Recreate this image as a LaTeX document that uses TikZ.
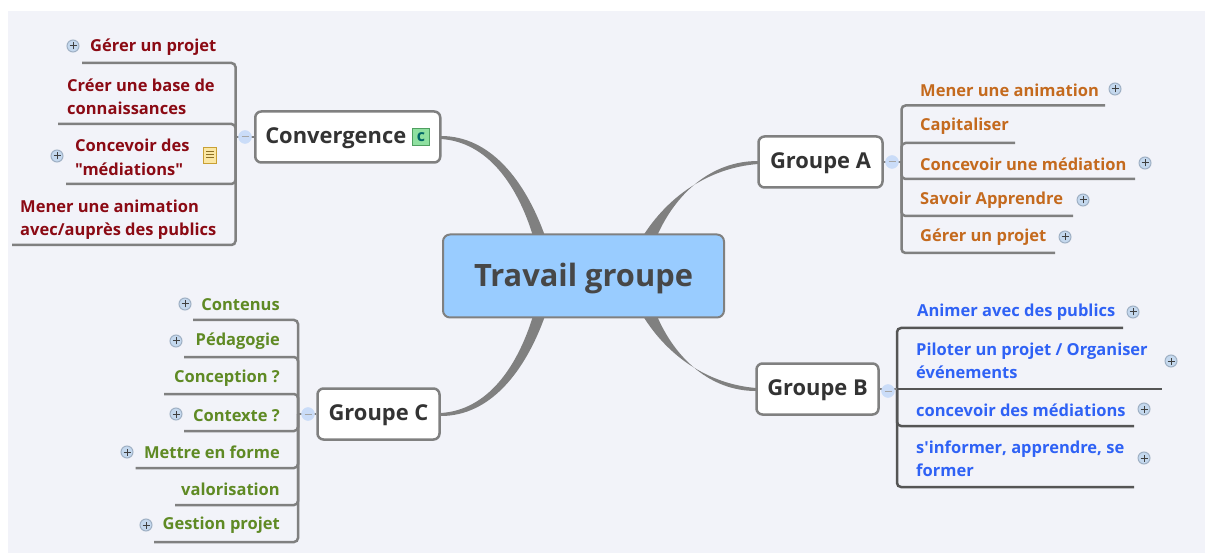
\documentclass[tikz,border=0pt]{standalone}
\usepackage{fontspec}
\newfontfamily\mapfont{Open Sans}
\usetikzlibrary{calc}
\definecolor{mapbg}{HTML}{F2F3F9}
\definecolor{rootblue}{HTML}{99CCFF}
\definecolor{linegray}{HTML}{808080}
\definecolor{darkline}{HTML}{555555}
\definecolor{cvred}{HTML}{8B0A14}
\definecolor{gaorange}{HTML}{C46A1E}
\definecolor{gbblue}{HTML}{2F62F5}
\definecolor{gcgreen}{HTML}{5F8A24}
\definecolor{btnfill}{HTML}{C4D8EE}
\definecolor{btnline}{HTML}{9FB0C4}
\definecolor{minusfill}{HTML}{CADCF8}
\definecolor{notefill}{HTML}{FBE7A4}
\definecolor{noteline}{HTML}{C9A035}
\definecolor{iconfill}{HTML}{8FE0A0}
\definecolor{iconline}{HTML}{4F9F60}
\newcommand{\lowered}[2]{\raisebox{-#1}[\height][\depth]{#2}}
\tikzset{
  rootbox/.style={draw=linegray, line width=2pt, fill=rootblue, rounded corners=7pt, text=black!72, font=\mapfont\bfseries\fontsize{30.8}{34}\selectfont},
  groupbox/.style={draw=linegray, line width=2.5pt, fill=white, rounded corners=6pt, text=black!80, font=\mapfont\bfseries\fontsize{21.9}{25}\selectfont},
  leaf/.style={inner sep=0pt, yshift=-1.5pt, align=left, font=\mapfont\bfseries\fontsize{16.5}{23.5}\selectfont},
  twig/.style={draw=linegray, line width=2.5pt, rounded corners=4pt},
  plusbtn/.style={circle, draw=btnline, fill=btnfill, line width=1pt, minimum size=12pt, inner sep=0pt,
    path picture={\draw[black!75, line width=1pt] ($(path picture bounding box.center)+(-3.5pt,0)$) -- ++(7pt,0) ($(path picture bounding box.center)+(0,-3.5pt)$) -- ++(0,7pt);}},
  minusbtn/.style={circle, draw=minusfill, fill=minusfill, minimum size=13pt, inner sep=0pt,
    path picture={\draw[black!35, line width=1pt] ($(path picture bounding box.center)+(-3.5pt,0)$) -- ++(7pt,0);}},
}
\begin{document}
\begin{tikzpicture}[x=1pt, y=-1pt]
  \useasboundingbox (0,0) rectangle (1205,553);
  \fill[white] (0,0) rectangle (1205,553);
  \fill[mapbg] (8,11) rectangle (1205,553);

  % tapered branches
  \coordinate (rcv) at (545,236);
  \coordinate (rga) at (657,236);
  \coordinate (rgb) at (657,316);
  \coordinate (rgc) at (545,316);
  \coordinate (econv) at (441,136);
  \coordinate (ega) at (758,161);
  \coordinate (egb) at (756,388);
  \coordinate (egc) at (441,413);
  \fill[linegray] (rcv) .. controls (525,180) and (490,136) .. (econv) -- ($(econv)+(0,3)$) .. controls (487,142) and (517,184) .. ($(rcv)+(-12,0)$) -- cycle;
  \fill[linegray] (rga) .. controls (675,195) and (710,161) .. (ega) -- ($(ega)+(0,3)$) .. controls (707,168) and (667,198) .. ($(rga)+(-14,0)$) -- cycle;
  \fill[linegray] (rgb) .. controls (675,358) and (710,391) .. ($(egb)+(0,3)$) -- (egb) .. controls (707,384) and (667,355) .. ($(rgb)+(-14,0)$) -- cycle;
  \fill[linegray] (rgc) .. controls (525,372) and (490,416) .. ($(egc)+(0,3)$) -- (egc) .. controls (487,410) and (517,368) .. ($(rgc)+(-12,0)$) -- cycle;

  % centre and groups
  \node[rootbox, minimum width=281pt, minimum height=83pt] (root) at (583.5,276) {\lowered{2pt}{Travail groupe}};
  \node[groupbox, minimum width=185pt, minimum height=51pt, anchor=west] (conv) at (254,137) {\hspace{-24pt}\lowered{1pt}{Convergence}};
  \node[groupbox, minimum width=124pt, minimum height=51pt] (groupa) at (820.5,162) {\lowered{1pt}{Groupe A}};
  \node[groupbox, minimum width=122pt, minimum height=51pt] (groupb) at (817.5,389) {\lowered{1.5pt}{Groupe B}};
  \node[groupbox, minimum width=122pt, minimum height=51pt] (groupc) at (378.5,414) {\lowered{1pt}{Groupe C}};
  \node[draw=iconline, fill=iconfill, line width=0.8pt, minimum size=17pt, inner sep=0pt, text=teal!80!black, font=\mapfont\bfseries\fontsize{16}{16}\selectfont] (convc) at (421,137) {c};

  % Convergence
  \coordinate (cvhub) at (235.5,137);
  \node[leaf, text=cvred, anchor=west] (cv1) at (90,46) {Gérer un projet};
  \node[leaf, text=cvred, anchor=west] (cv2) at (67,95.5) {Créer une base de\\connaissances};
  \node[leaf, text=cvred, anchor=west] (cv3) at (75,156) {Concevoir des\\"médiations"};
  \node[leaf, text=cvred, anchor=west] (cv4) at (20,218) {Mener une animation\\avec/auprès des publics};
  \coordinate (cv1e) at (82,63);
  \coordinate (cv2e) at (58,124);
  \coordinate (cv3e) at (66,184);
  \coordinate (cv4e) at (12,245);
  \draw[twig] (cvhub) |- (cv1e);
  \draw[twig] (cvhub) |- (cv2e);
  \draw[twig] (cvhub) |- (cv3e);
  \draw[twig] (cvhub) |- (cv4e);
  \draw[twig] (conv.west) -- (cvhub);
  \node[minusbtn] (cvmin) at (245,137) {};
  \node[plusbtn] (cvp1) at (73,46) {};
  \node[plusbtn] (cvp3) at (57,156) {};
  \node[draw=noteline, fill=notefill, line width=0.8pt, minimum width=13pt, minimum height=16pt, inner sep=0pt,
    path picture={\draw[noteline!70!black, line width=0.7pt] ($(path picture bounding box.north west)+(2.5pt,-4pt)$) -- ++(8pt,0) ++(-8pt,-3pt) -- ++(8pt,0) ++(-8pt,-3pt) -- ++(8pt,0);}] (cvnote) at (210,155) {};

  % Groupe A
  \coordinate (gahub) at (901.5,162);
  \node[leaf, text=gaorange, anchor=west] (ga1) at (920,88.5) {Mener une animation};
  \node[leaf, text=gaorange, anchor=west] (ga2) at (920,125) {Capitaliser};
  \node[leaf, text=gaorange, anchor=west] (ga3) at (920,162.5) {Concevoir une médiation};
  \node[leaf, text=gaorange, anchor=west] (ga4) at (920,199) {Savoir Apprendre};
  \node[leaf, text=gaorange, anchor=west] (ga5) at (920,236) {Gérer un projet};
  \coordinate (ga1e) at (1105,105.5);
  \coordinate (ga2e) at (1015,143);
  \coordinate (ga3e) at (1135,179);
  \coordinate (ga4e) at (1073,216);
  \coordinate (ga5e) at (1055,253);
  \draw[twig] (gahub) |- (ga1e);
  \draw[twig] (gahub) |- (ga2e);
  \draw[twig] (gahub) |- (ga3e);
  \draw[twig] (gahub) |- (ga4e);
  \draw[twig] (gahub) |- (ga5e);
  \draw[twig] (groupa.east) -- (gahub);
  \node[minusbtn] (gamin) at (892,162) {};
  \node[plusbtn] (gap1) at (1115,89) {};
  \node[plusbtn] (gap3) at (1145,163) {};
  \node[plusbtn] (gap4) at (1083,200) {};
  \node[plusbtn] (gap5) at (1065,237) {};

  % Groupe B
  \coordinate (gbhub) at (897,389);
  \node[leaf, text=gbblue, anchor=west] (gb1) at (917,311) {Animer avec des publics};
  \node[leaf, text=gbblue, anchor=west] (gb2) at (916,359.5) {Piloter un projet / Organiser\\événements};
  \node[leaf, text=gbblue, anchor=west] (gb3) at (916,408.5) {concevoir des médiations};
  \node[leaf, text=gbblue, anchor=west] (gb4) at (916,457.5) {s'informer, apprendre, se\\former};
  \coordinate (gb1e) at (1123,328);
  \coordinate (gb2e) at (1162,389);
  \coordinate (gb3e) at (1134,426);
  \coordinate (gb4e) at (1134,487);
  \draw[twig, draw=darkline] (gbhub) |- (gb1e);
  \draw[twig, draw=darkline] (gbhub) -- (gb2e);
  \draw[twig, draw=darkline] (gbhub) |- (gb3e);
  \draw[twig, draw=darkline] (gbhub) |- (gb4e);
  \draw[twig] (groupb.east) -- (gbhub);
  \node[minusbtn] (gbmin) at (888,391) {};
  \node[plusbtn] (gbp1) at (1133,312) {};
  \node[plusbtn] (gbp2) at (1171,361) {};
  \node[plusbtn] (gbp3) at (1144,409) {};
  \node[plusbtn] (gbp4) at (1144,458) {};

  % Groupe C
  \coordinate (gchub) at (298,414);
  \node[leaf, text=gcgreen, anchor=east] (gc1) at (280,303.5) {Contenus};
  \node[leaf, text=gcgreen, anchor=east] (gc2) at (280,340) {Pédagogie};
  \node[leaf, text=gcgreen, anchor=east] (gc3) at (280,376.5) {Conception ?};
  \node[leaf, text=gcgreen, anchor=east] (gc4) at (280,414.5) {Contexte ?};
  \node[leaf, text=gcgreen, anchor=east] (gc5) at (280,450.5) {Mettre en forme};
  \node[leaf, text=gcgreen, anchor=east] (gc6) at (280,487.5) {valorisation};
  \node[leaf, text=gcgreen, anchor=east] (gc7) at (280,524) {Gestion projet};
  \coordinate (gc1e) at (193,320);
  \coordinate (gc2e) at (184,357);
  \coordinate (gc3e) at (164,394);
  \coordinate (gc4e) at (184,431);
  \coordinate (gc5e) at (135.5,468);
  \coordinate (gc6e) at (175,505);
  \coordinate (gc7e) at (154,542);
  \draw[twig] (gchub) |- (gc1e);
  \draw[twig] (gchub) |- (gc2e);
  \draw[twig] (gchub) |- (gc3e);
  \draw[twig] (gchub) |- (gc4e);
  \draw[twig] (gchub) |- (gc5e);
  \draw[twig] (gchub) |- (gc6e);
  \draw[twig] (gchub) |- (gc7e);
  \draw[twig] (groupc.west) -- (gchub);
  \node[minusbtn] (gcmin) at (308,414) {};
  \node[plusbtn] (gcp1) at (185,304) {};
  \node[plusbtn] (gcp2) at (176,341) {};
  \node[plusbtn] (gcp4) at (176,414) {};
  \node[plusbtn] (gcp5) at (127,452) {};
  \node[plusbtn] (gcp7) at (146,525) {};
\end{tikzpicture}
\end{document}
